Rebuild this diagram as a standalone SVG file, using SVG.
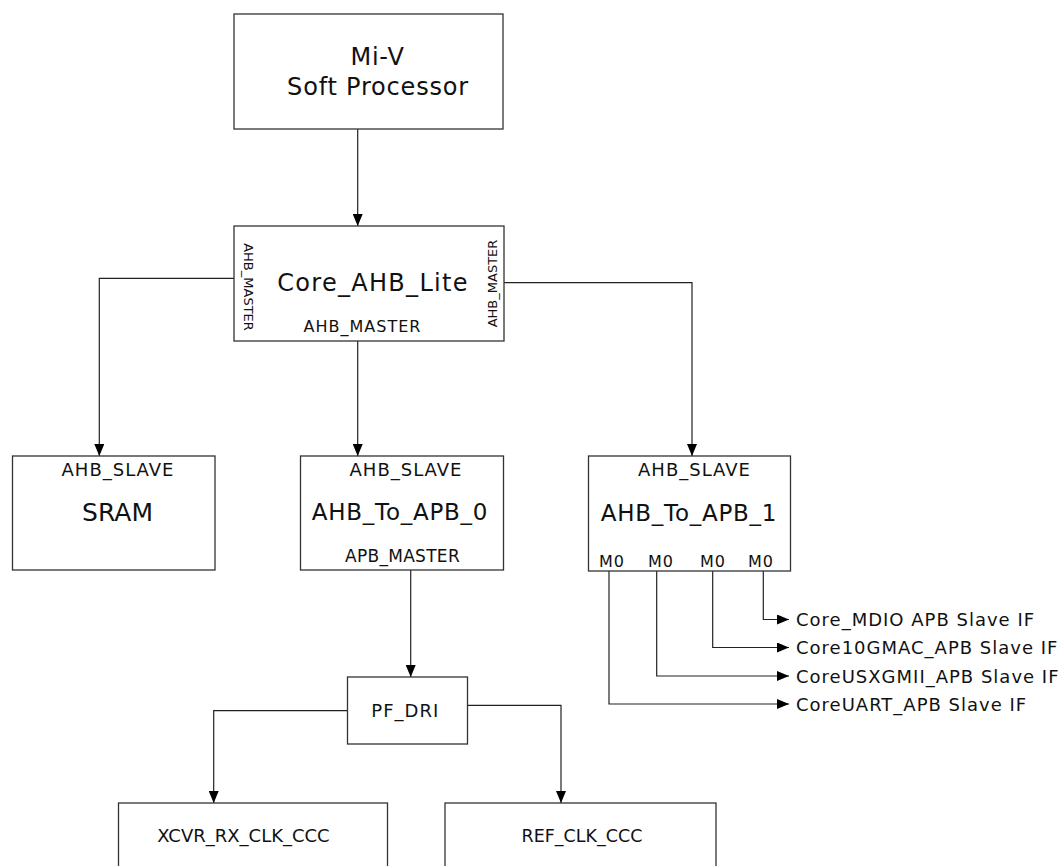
<svg xmlns="http://www.w3.org/2000/svg" width="1063" height="866" viewBox="0 0 1063 866">
<defs>
<marker id="arr" markerUnits="userSpaceOnUse" markerWidth="12" markerHeight="10" refX="12" refY="5" orient="auto">
<path d="M0,0 L12,5 L0,10 z" fill="#000"/>
</marker>
<style>
.box{fill:#fff;stroke:#333;stroke-width:1.3}
.t{font-family:"DejaVu Sans",Verdana,sans-serif;fill:#111}
.big{font-size:24px;letter-spacing:0.8px;text-anchor:middle}
.mid{font-size:23px;letter-spacing:0.75px;text-anchor:middle}
.port{font-size:18px;letter-spacing:1px;text-anchor:middle}
.lbl{font-size:18px;letter-spacing:1px}
.small{font-size:16px;letter-spacing:1px}
.rot{font-size:13px;text-anchor:middle}
.c{fill:none;stroke:#222;stroke-width:1.2}
.ca{fill:none;stroke:#222;stroke-width:1.2;marker-end:url(#arr)}
</style>
</defs>
<rect width="1063" height="866" fill="#fff"/>

<g id="connectors">
<path class="ca" d="M357.7,129 V226"/>
<path class="ca" d="M234,278.3 H99.3 V456"/>
<path class="ca" d="M504,282.7 H692 V456"/>
<path class="ca" d="M357.7,341 V456"/>
<path class="ca" d="M410.7,570 V677"/>
<path class="ca" d="M347.5,710.7 H213.7 V803"/>
<path class="ca" d="M467.5,705.3 H561 V803"/>
<path class="ca" d="M763.3,571 V619.5 H789"/>
<path class="ca" d="M712.7,571 V647.5 H789"/>
<path class="ca" d="M656.7,571 V676 H789"/>
<path class="ca" d="M609,571 V704 H789"/>
</g>

<g id="mi-v">
<rect class="box" x="234" y="14" width="269" height="115"/>
<text class="t big" x="377.5" y="65">Mi-V</text>
<text class="t big" x="378" y="95">Soft Processor</text>
</g>

<g id="core-ahb-lite">
<rect class="box" x="234" y="226" width="270" height="115"/>
<text class="t" x="373" y="291" style="font-size:24px;letter-spacing:1.3px;text-anchor:middle">Core_AHB_Lite</text>
<text class="t small" x="362.5" y="331.5" text-anchor="middle">AHB_MASTER</text>
<text class="t rot" transform="translate(243.5,287) rotate(90)">AHB_MASTER</text>
<text class="t rot" transform="translate(497,283.5) rotate(-90)">AHB_MASTER</text>
</g>

<g id="sram">
<rect class="box" x="12.5" y="456" width="202.5" height="114"/>
<text class="t port" x="118" y="476">AHB_SLAVE</text>
<text class="t" x="117.5" y="521" style="font-size:25px;text-anchor:middle">SRAM</text>
</g>

<g id="ahb-to-apb-0">
<rect class="box" x="300.5" y="456" width="203" height="114"/>
<text class="t port" x="406" y="476">AHB_SLAVE</text>
<text class="t mid" x="400" y="520">AHB_To_APB_0</text>
<text class="t" x="402.5" y="562" style="font-size:17px;letter-spacing:0.3px;text-anchor:middle">APB_MASTER</text>
</g>

<g id="ahb-to-apb-1">
<rect class="box" x="588.5" y="456" width="202" height="115"/>
<text class="t port" x="694.5" y="476">AHB_SLAVE</text>
<text class="t mid" x="689" y="521">AHB_To_APB_1</text>
<text class="t small" x="599" y="567">M0</text>
<text class="t small" x="648" y="567">M0</text>
<text class="t small" x="700" y="567">M0</text>
<text class="t small" x="748" y="567">M0</text>
</g>

<g id="targets">
<text class="t lbl" x="796" y="626">Core_MDIO APB Slave IF</text>
<text class="t lbl" x="796" y="654">Core10GMAC_APB Slave IF</text>
<text class="t lbl" x="796" y="682.5">CoreUSXGMII_APB Slave IF</text>
<text class="t lbl" x="796" y="710.5">CoreUART_APB Slave IF</text>
</g>

<g id="pf-dri">
<rect class="box" x="347.5" y="677" width="120" height="67"/>
<text class="t port" x="405.3" y="717.3">PF_DRI</text>
</g>

<g id="xcvr-rx-clk-ccc">
<rect class="box" x="118.5" y="803" width="269" height="80"/>
<text class="t" x="243.5" y="842" style="font-size:18px;text-anchor:middle">XCVR_RX_CLK_CCC</text>
</g>

<g id="ref-clk-ccc">
<rect class="box" x="445" y="803" width="271" height="80"/>
<text class="t" x="582" y="842" style="font-size:17.5px;text-anchor:middle">REF_CLK_CCC</text>
</g>
</svg>
